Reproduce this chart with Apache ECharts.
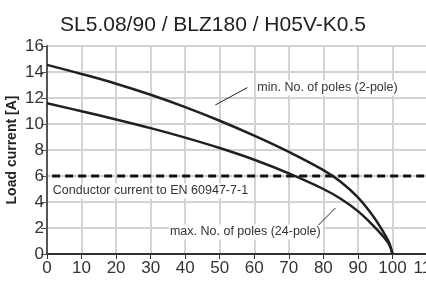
<!DOCTYPE html>
<html>
<head>
<meta charset="utf-8">
<script src="https://cdn.jsdelivr.net/npm/echarts@6/dist/echarts.min.js"></script>
<style>
  html, body { margin: 0; padding: 0; background: #fff; }
  #chart { width: 426px; height: 284px; }
</style>
</head>
<body>
<div id="chart"></div>
<script>
// ambient temperature [°C] and load current [A]
const tempMin = [0, 10, 20, 30, 40, 50, 60, 70, 80, 85, 90, 94, 97, 99, 100];
const currentMin = [14.55, 13.85, 13.1, 12.25, 11.3, 10.25, 9.1, 7.85, 6.45, 5.55, 4.35, 3.05, 1.85, 0.9, 0];
const tempMax = [0, 10, 20, 30, 40, 50, 60, 70, 80, 85, 90, 94, 97, 99, 100];
const currentMax = [11.6, 10.98, 10.35, 9.68, 8.95, 8.15, 7.25, 6.2, 5.0, 4.25, 3.3, 2.3, 1.45, 0.75, 0];
const conductorLimit = 6;
const limitRange = [1.5, 110];

const font = "'Liberation Sans', Arial, Helvetica, sans-serif";
const chart = echarts.init(document.getElementById("chart"));

function pairs(xs, ys) {
  return xs.map((x, i) => [x, ys[i]]);
}

const option = {
  animation: false,
  title: {
    text: "SL5.08/90 / BLZ180 / H05V-K0.5",
    left: "center",
    top: 10,
    textStyle: { fontFamily: font, fontSize: 21, fontWeight: "normal", color: "#222" },
  },
  grid: { left: 47, top: 46, width: 380, height: 208, outerBoundsMode: "none", containLabel: false },
  xAxis: {
    type: "value",
    min: 0,
    max: 110,
    interval: 10,
    axisLine: { show: true, lineStyle: { color: "#333", width: 2 } },
    axisTick: { show: true, length: 5, lineStyle: { color: "#333", width: 1 } },
    axisLabel: { fontFamily: font, fontSize: 17, color: "#333", margin: 6 },
    splitLine: { show: true, lineStyle: { color: "#d3d3d3", width: 2 } },
  },
  yAxis: {
    type: "value",
    min: 0,
    max: 16,
    interval: 2,
    name: "Load current [A]",
    nameLocation: "middle",
    nameGap: 28,
    nameMoveOverlap: false,
    nameTextStyle: { fontFamily: font, fontSize: 14, fontWeight: "bold", color: "#222" },
    axisLine: { show: true, lineStyle: { color: "#555", width: 2 } },
    axisTick: { show: true, length: 6, lineStyle: { color: "#555", width: 1 } },
    axisLabel: { fontFamily: font, fontSize: 17, color: "#333", margin: 3 },
    splitLine: { show: true, lineStyle: { color: "#d3d3d3", width: 2 } },
  },
  series: [
    {
      name: "limit",
      type: "line",
      data: limitRange.map((x) => [x, conductorLimit]),
      symbol: "none",
      lineStyle: { color: "#111", width: 3, type: [8, 5] },
      z: 3,
    },
    {
      name: "min. No. of poles (2-pole)",
      type: "line",
      data: pairs(tempMin, currentMin),
      smooth: 0.4,
      symbol: "none",
      lineStyle: { color: "#231f20", width: 2.5 },
      z: 4,
    },
    {
      name: "max. No. of poles (24-pole)",
      type: "line",
      data: pairs(tempMax, currentMax),
      smooth: 0.4,
      symbol: "none",
      lineStyle: { color: "#231f20", width: 2.5 },
      z: 4,
    },
  ],
};
chart.setOption(option);

// annotations, anchored in data coordinates
const notes = [
  { text: "min. No. of poles (2-pole)", at: [60.6, 12.77], from: [48.7, 11.46], to: [58, 12.8] },
  { text: "Conductor current to EN 60947-7-1", at: [1.4, 4.85] },
  { text: "max. No. of poles (24-pole)", at: [35.3, 1.7], from: [78.6, 2.23], to: [83.5, 3.54] },
];

const elements = [];
notes.forEach((n) => {
  const p = chart.convertToPixel({ gridIndex: 0 }, n.at);
  elements.push({
    type: "text",
    x: p[0],
    y: p[1],
    z: 10,
    style: {
      text: n.text,
      font: "12.5px " + font,
      fill: "#333",
      verticalAlign: "middle",
      backgroundColor: "#fff",
      padding: [1, 2, 1, 1],
    },
  });
  if (n.from) {
    const a = chart.convertToPixel({ gridIndex: 0 }, n.from);
    const b = chart.convertToPixel({ gridIndex: 0 }, n.to);
    elements.push({
      type: "line",
      z: 10,
      shape: { x1: a[0], y1: a[1], x2: b[0], y2: b[1] },
      style: { stroke: "#222", lineWidth: 1 },
    });
  }
});
chart.setOption({ graphic: elements });
</script>
</body>
</html>
